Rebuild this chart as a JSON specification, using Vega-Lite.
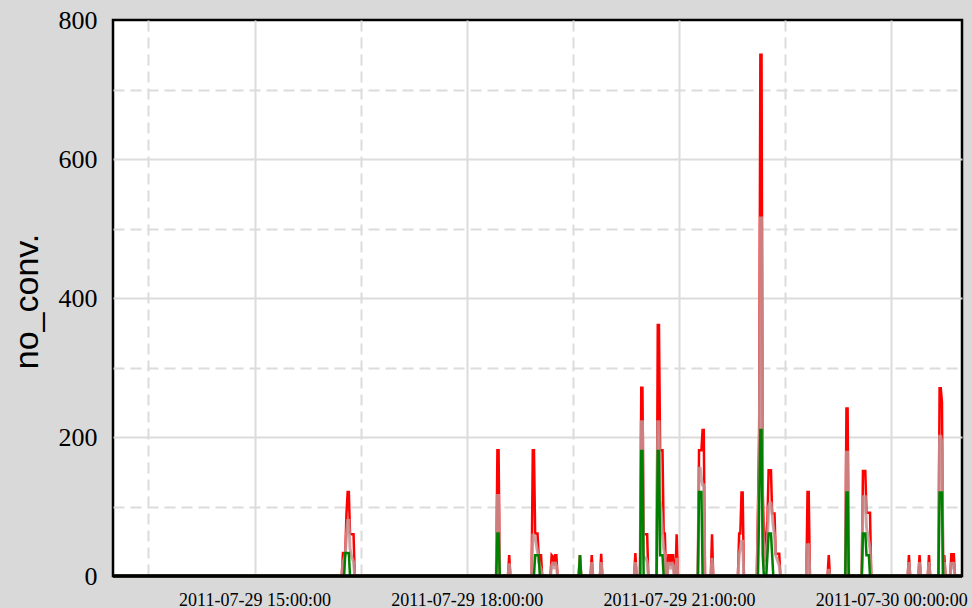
{
  "$schema": "https://vega.github.io/schema/vega-lite/v6.json",
  "width": 849,
  "height": 556,
  "autosize": {"type": "none"},
  "padding": {"left": 113, "top": 20, "right": 10, "bottom": 32},
  "background": "#d9d9d9",
  "config": {"view": {"fill": "white", "stroke": "black", "strokeWidth": 2.5}},
  "data": {"values": [
    {"t": "2011-07-29T13:00:00", "max": 0, "mean": 0, "min": 0},
    {"t": "2011-07-29T16:14:00", "max": 0, "mean": 0, "min": 0},
    {"t": "2011-07-29T16:15:00", "max": 33, "mean": 20, "min": 0},
    {"t": "2011-07-29T16:16:00", "max": 33, "mean": 25, "min": 0},
    {"t": "2011-07-29T16:17:00", "max": 33, "mean": 30, "min": 33},
    {"t": "2011-07-29T16:18:00", "max": 90, "mean": 60, "min": 33},
    {"t": "2011-07-29T16:19:00", "max": 121, "mean": 80, "min": 33},
    {"t": "2011-07-29T16:20:00", "max": 121, "mean": 80, "min": 33},
    {"t": "2011-07-29T16:21:00", "max": 61, "mean": 40, "min": 0},
    {"t": "2011-07-29T16:22:00", "max": 60, "mean": 30, "min": 0},
    {"t": "2011-07-29T16:23:00", "max": 60, "mean": 25, "min": 0},
    {"t": "2011-07-29T16:24:00", "max": 60, "mean": 20, "min": 0},
    {"t": "2011-07-29T16:25:00", "max": 0, "mean": 0, "min": 0},
    {"t": "2011-07-29T18:25:00", "max": 0, "mean": 0, "min": 0},
    {"t": "2011-07-29T18:26:00", "max": 181, "mean": 116, "min": 61},
    {"t": "2011-07-29T18:27:00", "max": 181, "mean": 116, "min": 61},
    {"t": "2011-07-29T18:28:00", "max": 0, "mean": 0, "min": 0},
    {"t": "2011-07-29T18:35:00", "max": 0, "mean": 0, "min": 0},
    {"t": "2011-07-29T18:36:00", "max": 30, "mean": 18, "min": 0},
    {"t": "2011-07-29T18:37:00", "max": 0, "mean": 0, "min": 0},
    {"t": "2011-07-29T18:55:00", "max": 0, "mean": 0, "min": 0},
    {"t": "2011-07-29T18:56:00", "max": 181, "mean": 59, "min": 0},
    {"t": "2011-07-29T18:57:00", "max": 181, "mean": 59, "min": 0},
    {"t": "2011-07-29T18:58:00", "max": 61, "mean": 55, "min": 30},
    {"t": "2011-07-29T18:59:00", "max": 61, "mean": 45, "min": 30},
    {"t": "2011-07-29T19:00:00", "max": 61, "mean": 35, "min": 30},
    {"t": "2011-07-29T19:01:00", "max": 30, "mean": 20, "min": 30},
    {"t": "2011-07-29T19:02:00", "max": 30, "mean": 15, "min": 0},
    {"t": "2011-07-29T19:03:00", "max": 30, "mean": 10, "min": 0},
    {"t": "2011-07-29T19:04:00", "max": 0, "mean": 0, "min": 0},
    {"t": "2011-07-29T19:11:00", "max": 0, "mean": 0, "min": 0},
    {"t": "2011-07-29T19:12:00", "max": 30, "mean": 15, "min": 0},
    {"t": "2011-07-29T19:13:00", "max": 28, "mean": 20, "min": 0},
    {"t": "2011-07-29T19:14:00", "max": 15, "mean": 10, "min": 0},
    {"t": "2011-07-29T19:15:00", "max": 30, "mean": 20, "min": 0},
    {"t": "2011-07-29T19:16:00", "max": 30, "mean": 15, "min": 0},
    {"t": "2011-07-29T19:17:00", "max": 0, "mean": 0, "min": 0},
    {"t": "2011-07-29T19:35:00", "max": 0, "mean": 0, "min": 0},
    {"t": "2011-07-29T19:36:00", "max": 30, "mean": 30, "min": 30},
    {"t": "2011-07-29T19:37:00", "max": 0, "mean": 0, "min": 0},
    {"t": "2011-07-29T19:45:00", "max": 0, "mean": 0, "min": 0},
    {"t": "2011-07-29T19:46:00", "max": 30, "mean": 20, "min": 0},
    {"t": "2011-07-29T19:47:00", "max": 0, "mean": 0, "min": 0},
    {"t": "2011-07-29T19:53:00", "max": 0, "mean": 0, "min": 0},
    {"t": "2011-07-29T19:54:00", "max": 32, "mean": 20, "min": 0},
    {"t": "2011-07-29T19:55:00", "max": 0, "mean": 0, "min": 0},
    {"t": "2011-07-29T20:22:00", "max": 0, "mean": 0, "min": 0},
    {"t": "2011-07-29T20:23:00", "max": 33, "mean": 20, "min": 0},
    {"t": "2011-07-29T20:24:00", "max": 0, "mean": 0, "min": 0},
    {"t": "2011-07-29T20:27:00", "max": 0, "mean": 0, "min": 0},
    {"t": "2011-07-29T20:28:00", "max": 271, "mean": 222, "min": 180},
    {"t": "2011-07-29T20:29:00", "max": 271, "mean": 222, "min": 180},
    {"t": "2011-07-29T20:30:00", "max": 60, "mean": 26, "min": 0},
    {"t": "2011-07-29T20:31:00", "max": 60, "mean": 26, "min": 0},
    {"t": "2011-07-29T20:32:00", "max": 60, "mean": 26, "min": 0},
    {"t": "2011-07-29T20:33:00", "max": 60, "mean": 20, "min": 0},
    {"t": "2011-07-29T20:34:00", "max": 0, "mean": 0, "min": 0},
    {"t": "2011-07-29T20:41:00", "max": 0, "mean": 0, "min": 0},
    {"t": "2011-07-29T20:42:00", "max": 361, "mean": 222, "min": 180},
    {"t": "2011-07-29T20:43:00", "max": 361, "mean": 222, "min": 180},
    {"t": "2011-07-29T20:44:00", "max": 181, "mean": 110, "min": 30},
    {"t": "2011-07-29T20:45:00", "max": 181, "mean": 90, "min": 30},
    {"t": "2011-07-29T20:46:00", "max": 181, "mean": 60, "min": 30},
    {"t": "2011-07-29T20:47:00", "max": 61, "mean": 40, "min": 0},
    {"t": "2011-07-29T20:48:00", "max": 61, "mean": 30, "min": 0},
    {"t": "2011-07-29T20:49:00", "max": 0, "mean": 0, "min": 0},
    {"t": "2011-07-29T20:50:00", "max": 0, "mean": 0, "min": 0},
    {"t": "2011-07-29T20:51:00", "max": 30, "mean": 20, "min": 0},
    {"t": "2011-07-29T20:52:00", "max": 30, "mean": 15, "min": 0},
    {"t": "2011-07-29T20:53:00", "max": 15, "mean": 10, "min": 0},
    {"t": "2011-07-29T20:54:00", "max": 30, "mean": 20, "min": 0},
    {"t": "2011-07-29T20:55:00", "max": 30, "mean": 15, "min": 0},
    {"t": "2011-07-29T20:56:00", "max": 0, "mean": 0, "min": 0},
    {"t": "2011-07-29T20:57:00", "max": 0, "mean": 0, "min": 0},
    {"t": "2011-07-29T20:58:00", "max": 60, "mean": 26, "min": 0},
    {"t": "2011-07-29T20:59:00", "max": 0, "mean": 0, "min": 0},
    {"t": "2011-07-29T21:16:00", "max": 0, "mean": 0, "min": 0},
    {"t": "2011-07-29T21:17:00", "max": 181, "mean": 155, "min": 121},
    {"t": "2011-07-29T21:18:00", "max": 181, "mean": 155, "min": 121},
    {"t": "2011-07-29T21:19:00", "max": 181, "mean": 140, "min": 121},
    {"t": "2011-07-29T21:20:00", "max": 210, "mean": 131, "min": 0},
    {"t": "2011-07-29T21:21:00", "max": 210, "mean": 131, "min": 0},
    {"t": "2011-07-29T21:22:00", "max": 0, "mean": 0, "min": 0},
    {"t": "2011-07-29T21:27:00", "max": 0, "mean": 0, "min": 0},
    {"t": "2011-07-29T21:28:00", "max": 60, "mean": 26, "min": 0},
    {"t": "2011-07-29T21:29:00", "max": 0, "mean": 0, "min": 0},
    {"t": "2011-07-29T21:50:00", "max": 0, "mean": 0, "min": 0},
    {"t": "2011-07-29T21:51:00", "max": 61, "mean": 30, "min": 0},
    {"t": "2011-07-29T21:52:00", "max": 61, "mean": 40, "min": 0},
    {"t": "2011-07-29T21:53:00", "max": 120, "mean": 50, "min": 0},
    {"t": "2011-07-29T21:54:00", "max": 120, "mean": 50, "min": 0},
    {"t": "2011-07-29T21:55:00", "max": 0, "mean": 0, "min": 0},
    {"t": "2011-07-29T22:06:00", "max": 0, "mean": 0, "min": 0},
    {"t": "2011-07-29T22:07:00", "max": 100, "mean": 70, "min": 0},
    {"t": "2011-07-29T22:08:00", "max": 210, "mean": 150, "min": 100},
    {"t": "2011-07-29T22:09:00", "max": 750, "mean": 515, "min": 210},
    {"t": "2011-07-29T22:10:00", "max": 750, "mean": 515, "min": 210},
    {"t": "2011-07-29T22:11:00", "max": 120, "mean": 80, "min": 30},
    {"t": "2011-07-29T22:12:00", "max": 60, "mean": 30, "min": 0},
    {"t": "2011-07-29T22:13:00", "max": 20, "mean": 10, "min": 0},
    {"t": "2011-07-29T22:14:00", "max": 60, "mean": 40, "min": 0},
    {"t": "2011-07-29T22:15:00", "max": 80, "mean": 50, "min": 30},
    {"t": "2011-07-29T22:16:00", "max": 152, "mean": 100, "min": 61},
    {"t": "2011-07-29T22:17:00", "max": 152, "mean": 105, "min": 61},
    {"t": "2011-07-29T22:18:00", "max": 152, "mean": 105, "min": 61},
    {"t": "2011-07-29T22:19:00", "max": 90, "mean": 90, "min": 30},
    {"t": "2011-07-29T22:20:00", "max": 90, "mean": 70, "min": 0},
    {"t": "2011-07-29T22:21:00", "max": 90, "mean": 60, "min": 0},
    {"t": "2011-07-29T22:22:00", "max": 32, "mean": 30, "min": 0},
    {"t": "2011-07-29T22:23:00", "max": 32, "mean": 25, "min": 0},
    {"t": "2011-07-29T22:24:00", "max": 32, "mean": 20, "min": 0},
    {"t": "2011-07-29T22:25:00", "max": 32, "mean": 15, "min": 0},
    {"t": "2011-07-29T22:26:00", "max": 0, "mean": 0, "min": 0},
    {"t": "2011-07-29T22:48:00", "max": 0, "mean": 0, "min": 0},
    {"t": "2011-07-29T22:49:00", "max": 121, "mean": 45, "min": 0},
    {"t": "2011-07-29T22:50:00", "max": 121, "mean": 45, "min": 0},
    {"t": "2011-07-29T22:51:00", "max": 0, "mean": 0, "min": 0},
    {"t": "2011-07-29T23:06:00", "max": 0, "mean": 0, "min": 0},
    {"t": "2011-07-29T23:07:00", "max": 30, "mean": 10, "min": 0},
    {"t": "2011-07-29T23:08:00", "max": 0, "mean": 0, "min": 0},
    {"t": "2011-07-29T23:21:00", "max": 0, "mean": 0, "min": 0},
    {"t": "2011-07-29T23:22:00", "max": 241, "mean": 178, "min": 120},
    {"t": "2011-07-29T23:23:00", "max": 241, "mean": 178, "min": 120},
    {"t": "2011-07-29T23:24:00", "max": 0, "mean": 0, "min": 0},
    {"t": "2011-07-29T23:35:00", "max": 0, "mean": 0, "min": 0},
    {"t": "2011-07-29T23:36:00", "max": 151, "mean": 114, "min": 61},
    {"t": "2011-07-29T23:37:00", "max": 151, "mean": 114, "min": 61},
    {"t": "2011-07-29T23:38:00", "max": 151, "mean": 114, "min": 61},
    {"t": "2011-07-29T23:39:00", "max": 91, "mean": 70, "min": 30},
    {"t": "2011-07-29T23:40:00", "max": 91, "mean": 60, "min": 30},
    {"t": "2011-07-29T23:41:00", "max": 91, "mean": 50, "min": 30},
    {"t": "2011-07-29T23:42:00", "max": 91, "mean": 40, "min": 0},
    {"t": "2011-07-29T23:43:00", "max": 0, "mean": 0, "min": 0},
    {"t": "2011-07-30T00:14:00", "max": 0, "mean": 0, "min": 0},
    {"t": "2011-07-30T00:15:00", "max": 30, "mean": 20, "min": 0},
    {"t": "2011-07-30T00:16:00", "max": 0, "mean": 0, "min": 0},
    {"t": "2011-07-30T00:23:00", "max": 0, "mean": 0, "min": 0},
    {"t": "2011-07-30T00:24:00", "max": 30, "mean": 20, "min": 0},
    {"t": "2011-07-30T00:25:00", "max": 0, "mean": 0, "min": 0},
    {"t": "2011-07-30T00:31:00", "max": 0, "mean": 0, "min": 0},
    {"t": "2011-07-30T00:32:00", "max": 30, "mean": 20, "min": 0},
    {"t": "2011-07-30T00:33:00", "max": 0, "mean": 0, "min": 0},
    {"t": "2011-07-30T00:40:00", "max": 0, "mean": 0, "min": 0},
    {"t": "2011-07-30T00:41:00", "max": 270, "mean": 201, "min": 120},
    {"t": "2011-07-30T00:42:00", "max": 270, "mean": 201, "min": 120},
    {"t": "2011-07-30T00:43:00", "max": 250, "mean": 190, "min": 120},
    {"t": "2011-07-30T00:44:00", "max": 0, "mean": 0, "min": 0},
    {"t": "2011-07-30T00:45:00", "max": 30, "mean": 20, "min": 0},
    {"t": "2011-07-30T00:46:00", "max": 0, "mean": 0, "min": 0},
    {"t": "2011-07-30T00:50:00", "max": 0, "mean": 0, "min": 0},
    {"t": "2011-07-30T00:51:00", "max": 33, "mean": 20, "min": 0},
    {"t": "2011-07-30T00:52:00", "max": 15, "mean": 10, "min": 0},
    {"t": "2011-07-30T00:53:00", "max": 33, "mean": 20, "min": 0},
    {"t": "2011-07-30T00:54:00", "max": 0, "mean": 0, "min": 0},
    {"t": "2011-07-30T01:00:00", "max": 0, "mean": 0, "min": 0}
  ]},
  "transform": [{"fold": ["max", "mean", "min"], "as": ["key", "value"]}],
  "layer": [
    {
      "transform": [{"filter": "datum.key === 'max'"}],
      "mark": {"type": "line", "color": "#ff0000", "strokeWidth": 2.5},
      "encoding": {
        "x": {
          "field": "t", "type": "temporal",
          "scale": {"domain": [
            {"year": 2011, "month": 7, "date": 29, "hours": 13, "minutes": 0},
            {"year": 2011, "month": 7, "date": 30, "hours": 1, "minutes": 0}
          ]},
          "axis": {
            "values": [
              {"year": 2011, "month": 7, "date": 29, "hours": 13, "minutes": 30},
              {"year": 2011, "month": 7, "date": 29, "hours": 15, "minutes": 0},
              {"year": 2011, "month": 7, "date": 29, "hours": 16, "minutes": 30},
              {"year": 2011, "month": 7, "date": 29, "hours": 18, "minutes": 0},
              {"year": 2011, "month": 7, "date": 29, "hours": 19, "minutes": 30},
              {"year": 2011, "month": 7, "date": 29, "hours": 21, "minutes": 0},
              {"year": 2011, "month": 7, "date": 29, "hours": 22, "minutes": 30},
              {"year": 2011, "month": 7, "date": 30, "hours": 0, "minutes": 0}
            ],
            "format": "%Y-%m-%d %H:%M:%S",
            "labelExpr": "hours(datum.value) % 3 === 0 ? datum.label : ''",
            "grid": true,
            "gridColor": "#dcdcdc",
            "gridWidth": 2,
            "gridDash": {"condition": {"test": "hours(datum.value) % 3 !== 0", "value": [11, 6]}, "value": []},
            "ticks": false,
            "tickSize": 0,
            "domain": false,
            "labelFont": "Liberation Serif",
            "labelFontSize": 18,
            "labelColor": "black",
            "labelPadding": 29,
            "labelBaseline": "alphabetic",
            "labelFlush": false,
            "labelOverlap": false,
            "labelBound": false,
            "title": null
          }
        },
        "y": {
          "field": "value", "type": "quantitative",
          "scale": {"domain": [0, 800], "nice": false, "zero": true},
          "axis": {
            "values": [0, 100, 200, 300, 400, 500, 600, 700, 800],
            "labelExpr": "datum.value % 200 === 0 ? datum.label : ''",
            "grid": true,
            "gridColor": "#dcdcdc",
            "gridWidth": 2,
            "gridDash": {"condition": {"test": "datum.value % 200 !== 0", "value": [11, 6]}, "value": []},
            "gridOpacity": {"condition": {"test": "datum.value === 0 || datum.value === 800", "value": 0}, "value": 1},
            "ticks": false,
            "tickSize": 0,
            "domain": false,
            "labelFont": "Liberation Serif",
            "labelFontSize": 26,
            "labelColor": "black",
            "labelPadding": 16,
            "labelOverlap": false,
            "title": "no_conv.",
            "titleFont": "Liberation Sans",
            "titleFontSize": 34,
            "titleFontWeight": "normal",
            "titleColor": "black",
            "titleAngle": -90,
            "titleX": -76,
            "titleY": 281,
            "titleAlign": "center",
            "titleBaseline": "alphabetic"
          }
        }
      }
    },
    {
      "transform": [{"filter": "datum.key === 'mean'"}],
      "mark": {"type": "line", "color": "#c49494", "strokeWidth": 3, "opacity": 0.85},
      "encoding": {
        "x": {"field": "t", "type": "temporal", "axis": {"title": null}},
        "y": {"field": "value", "type": "quantitative", "axis": {"title": "no_conv."}}
      }
    },
    {
      "transform": [{"filter": "datum.key === 'min'"}],
      "mark": {"type": "line", "color": "#008000", "strokeWidth": 2.5},
      "encoding": {
        "x": {"field": "t", "type": "temporal", "axis": {"title": null}},
        "y": {"field": "value", "type": "quantitative", "axis": {"title": "no_conv."}}
      }
    },
    {
      "transform": [{"filter": "datum.key === 'max' && hours(datum.t) === 13"}],
      "mark": {"type": "rule", "color": "black", "strokeWidth": 3.5},
      "encoding": {
        "y": {"datum": 0, "type": "quantitative"}
      }
    }
  ]
}
